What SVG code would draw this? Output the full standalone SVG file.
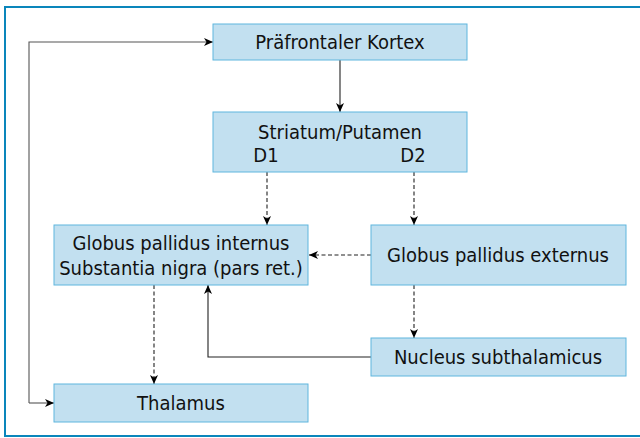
<svg xmlns="http://www.w3.org/2000/svg" width="640" height="438" viewBox="0 0 640 438">
<style>
.box{fill:#c2e0f0;stroke:#5fb6de;stroke-width:1}
.t{font-family:"DejaVu Sans Condensed","DejaVu Sans",sans-serif;font-stretch:condensed;font-size:20px;fill:#111;text-anchor:middle}
.c{fill:none;stroke:#222;stroke-width:1.1}
.d{stroke-dasharray:4 2.5}
.g{stroke:#555}
</style>
<defs>
<marker id="ah" viewBox="0 0 9 8" refX="9" refY="4" markerWidth="9" markerHeight="8" markerUnits="userSpaceOnUse" orient="auto">
<path d="M0,0 L9,4 L0,8 L2.5,4 z" fill="#000"/>
</marker>
</defs>
<rect x="5" y="7" width="650" height="429" fill="#fff" stroke="#0a86bb" stroke-width="2"/>
<g id="connectors">
<path class="c" d="M340,60 V112" marker-end="url(#ah)"/>
<path class="c d" d="M267,172 V225" marker-end="url(#ah)"/>
<path class="c d" d="M414,172 V225" marker-end="url(#ah)"/>
<path class="c d" d="M371,255 H309" marker-end="url(#ah)"/>
<path class="c d" d="M154,285 V384" marker-end="url(#ah)"/>
<path class="c d" d="M414,285 V338" marker-end="url(#ah)"/>
<path class="c" d="M371,357 H208 V285" marker-end="url(#ah)"/>
<path class="c g" d="M29,403 V42 H213" marker-end="url(#ah)"/>
<path class="c g" d="M29,403 H54" marker-end="url(#ah)"/>
</g>
<g id="praefrontaler-kortex">
<rect class="box" x="213" y="24" width="254" height="36"/>
<text class="t" x="340" y="49">Präfrontaler Kortex</text>
</g>
<g id="striatum">
<rect class="box" x="213" y="112" width="254" height="60"/>
<text class="t" x="340" y="139">Striatum/Putamen</text>
<text class="t" x="266" y="162">D1</text>
<text class="t" x="413" y="162">D2</text>
</g>
<g id="gp-internus">
<rect class="box" x="54" y="225" width="254" height="60"/>
<text class="t" x="181" y="250">Globus pallidus internus</text>
<text class="t" x="181" y="275">Substantia nigra (pars ret.)</text>
</g>
<g id="gp-externus">
<rect class="box" x="371" y="225" width="255" height="60"/>
<text class="t" x="498" y="262">Globus pallidus externus</text>
</g>
<g id="nucleus-subthalamicus">
<rect class="box" x="371" y="338" width="255" height="38"/>
<text class="t" x="498" y="364">Nucleus subthalamicus</text>
</g>
<g id="thalamus">
<rect class="box" x="54" y="384" width="254" height="38"/>
<text class="t" x="181" y="410">Thalamus</text>
</g>
</svg>
